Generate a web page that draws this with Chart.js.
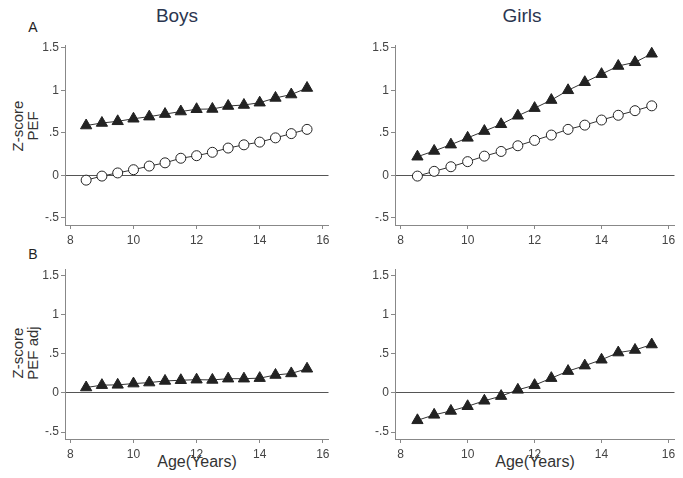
<!DOCTYPE html>
<html>
<head>
<meta charset="utf-8">
<script src="https://cdn.jsdelivr.net/npm/chart.js@4/dist/chart.umd.min.js"></script>
<style>
  html, body { margin:0; padding:0; background:#fff; }
  body { width:683px; height:478px; position:relative; overflow:hidden; font-family:"Liberation Sans", Arial, sans-serif; }
  canvas { position:absolute; }
  .t { position:absolute; white-space:nowrap; transform:translate(-50%,-50%); }
  .ytitle { position:absolute; transform:translate(-50%,-50%) rotate(-90deg); text-align:center; font-size:15px; line-height:15px; color:#333; white-space:nowrap; }
</style>
</head>
<body>
<div class="t" style="left:177px;top:16px;font-size:19px;color:#2b3650;">Boys</div>
<div class="t" style="left:522px;top:16px;font-size:19px;color:#2b3650;">Girls</div>
<div class="t" style="left:33px;top:27px;font-size:14px;color:#222;">A</div>
<div class="t" style="left:33px;top:254px;font-size:14px;color:#222;">B</div>
<div class="ytitle" style="left:25px;top:126px;">Z-score<br>PEF</div>
<div class="ytitle" style="left:25px;top:353px;">Z-score<br>PEF adj</div>
<div class="t" style="left:197px;top:462px;font-size:16px;color:#333;">Age(Years)</div>
<div class="t" style="left:535px;top:462px;font-size:16px;color:#333;">Age(Years)</div>

<canvas id="c1" width="306" height="220" style="left:30px;top:36px;"></canvas>
<canvas id="c2" width="322" height="220" style="left:360px;top:36px;"></canvas>
<canvas id="c3" width="306" height="210" style="left:30px;top:260px;"></canvas>
<canvas id="c4" width="322" height="210" style="left:360px;top:260px;"></canvas>

<script>
// ---- data ----
const ages = [8.5, 9, 9.5, 10, 10.5, 11, 11.5, 12, 12.5, 13, 13.5, 14, 14.5, 15, 15.5];
const boysPefTri  = [0.585, 0.615, 0.635, 0.665, 0.69, 0.72, 0.75, 0.777, 0.78, 0.815, 0.827, 0.854, 0.91, 0.95, 1.027];
const boysPefCirc = [-0.058, -0.01, 0.027, 0.065, 0.108, 0.146, 0.2, 0.23, 0.27, 0.32, 0.358, 0.39, 0.44, 0.49, 0.54];
const girlsPefTri  = [0.218, 0.286, 0.36, 0.44, 0.52, 0.6, 0.70, 0.79, 0.885, 1.0, 1.095, 1.19, 1.286, 1.33, 1.43];
const girlsPefCirc = [-0.01, 0.046, 0.10, 0.16, 0.225, 0.28, 0.347, 0.41, 0.473, 0.54, 0.59, 0.65, 0.706, 0.76, 0.817];
const boysAdjTri  = [0.07, 0.1, 0.104, 0.12, 0.133, 0.154, 0.163, 0.17, 0.167, 0.183, 0.183, 0.19, 0.23, 0.25, 0.31];
const girlsAdjTri = [-0.35, -0.28, -0.23, -0.17, -0.1, -0.04, 0.04, 0.10, 0.19, 0.28, 0.35, 0.425, 0.517, 0.55, 0.62];
const xTicks = [8, 10, 12, 14, 16];
const yTicks = [-0.5, 0, 0.5, 1, 1.5];
const yTickLabels = {"-0.5": "-.5", "0": "0", "0.5": ".5", "1": "1", "1.5": "1.5"};

const FONT = "'Liberation Sans', Arial, sans-serif";
const pts = arr => arr.map((v, i) => ({x: ages[i], y: v}));

function triSet(arr) {
  return { data: pts(arr), borderColor:'#333', borderWidth:1, pointStyle:'triangle',
    pointRadius:6.5, pointBackgroundColor:'#222', pointBorderColor:'#222', pointBorderWidth:1, tension:0 };
}
function circSet(arr) {
  return { data: pts(arr), borderColor:'#333', borderWidth:1, pointStyle:'circle',
    pointRadius:5, pointBackgroundColor:'#fff', pointBorderColor:'#222', pointBorderWidth:1, tension:0 };
}

function makeChart(id, datasets, ymin, ymax) {
  new Chart(document.getElementById(id), {
    type: 'line',
    data: { datasets },
    options: {
      responsive:false, animation:false,
      layout: { padding: { top:7, right: (id === 'c1' || id === 'c3') ? 5 : 6, left:0, bottom:0 } },
      plugins: { legend:{display:false}, tooltip:{enabled:false} },
      scales: {
        x: {
          type:'linear', min:7.83, max:16.18,
          afterBuildTicks: s => { s.ticks = xTicks.map(v => ({value:v})); },
          afterFit: s => { s.height = 31; },
          ticks: { font:{family:FONT, size:12}, color:'#444', padding:4, maxRotation:0 },
          grid: { drawOnChartArea:false, tickLength:4, tickColor:'#888' },
          border: { color:'#888', width:1 }
        },
        y: {
          min:ymin, max:ymax,
          afterBuildTicks: s => { s.ticks = yTicks.map(v => ({value:v})); },
          afterFit: s => { s.width = 35; },
          ticks: { font:{family:FONT, size:12}, color:'#444', padding:2,
                   callback: v => yTickLabels[String(v)] },
          grid: { drawOnChartArea:true, tickLength:4, tickColor:'#888',
                  color: ctx => (ctx.tick && ctx.tick.value === 0) ? '#555' : 'rgba(0,0,0,0)', lineWidth:1 },
          border: { color:'#888', width:1 }
        }
      }
    }
  });
}

makeChart('c1', [circSet(boysPefCirc), triSet(boysPefTri)], -0.586, 1.531);
makeChart('c2', [circSet(girlsPefCirc), triSet(girlsPefTri)], -0.586, 1.531);
makeChart('c3', [triSet(boysAdjTri)], -0.589, 1.584);
makeChart('c4', [triSet(girlsAdjTri)], -0.589, 1.584);
</script>
</body>
</html>
